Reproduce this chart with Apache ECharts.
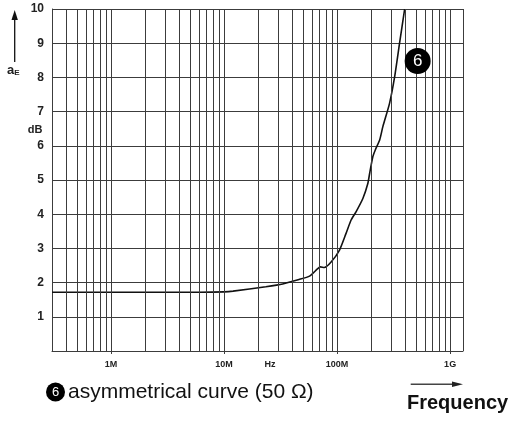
<!DOCTYPE html>
<html lang="en">

<head>
    <meta charset="UTF-8">
    <meta name="viewport" content="width=device-width, initial-scale=1.0">
    <style>
        html, body {
            margin: 0;
            padding: 0;
            background: #fff;
        }
        #main {
            width: 514px;
            height: 424px;
        }
    </style>
    <title>asymmetrical curve</title>
</head>

<body>

    <div id="main"></div>

    <script src="https://cdn.jsdelivr.net/npm/echarts@6/dist/echarts.min.js"></script>
    <script>
        // curve 6
        var freqHz = [3e5, 1e6, 3e6, 6e6, 1e7, 1.2e7, 2.34e7, 3.3e7, 4.6e7, 5.7e7, 6.7e7, 7.1e7, 7.7e7,
            8.85e7, 1.05e8, 1.2e8, 1.33e8, 1.47e8, 1.69e8, 1.87e8, 1.94e8, 2.07e8, 2.19e8, 2.38e8,
            2.54e8, 2.91e8, 3.23e8, 3.57e8, 3.96e8];
        var attenDb = [1.72, 1.72, 1.72, 1.72, 1.73, 1.75, 1.88, 1.96, 2.09, 2.19, 2.4, 2.46, 2.44,
            2.6, 2.95, 3.44, 3.83, 4.07, 4.46, 4.9, 5.19, 5.68, 5.9, 6.17,
            6.56, 7.24, 8.02, 9.0, 10.0];

        var xMin = 3e5, xMax = 1.3e9;
        var decadeLabels = { 6: '1M', 7: '10M', 8: '100M', 9: '1G' };

        var gridColor = '#3c3c3c';
        var font = 'Liberation Sans, Arial, sans-serif';

        // vertical grid lines 1..9 x 10^n inside the range, plus right border
        var vLines = [];
        for (var n = 5; n <= 9; n++) {
            for (var k = 1; k <= 9; k++) {
                var v = k * Math.pow(10, n);
                if (v > xMin && v < xMax) vLines.push({ xAxis: v });
            }
        }
        vLines.push({ xAxis: xMax });

        var myChart = echarts.init(document.getElementById('main'));

        var option = {
            animation: false,
            backgroundColor: '#fff',
            grid: {
                left: 52,
                right: 51,
                top: 9,
                bottom: 73
            },
            xAxis: {
                type: 'log',
                logBase: 10,
                min: xMin,
                max: xMax,
                axisLine: { show: true, lineStyle: { color: gridColor, width: 1 } },
                axisTick: { show: true, length: 3, lineStyle: { color: gridColor } },
                splitLine: { show: false },
                axisLabel: {
                    margin: 9,
                    color: '#222',
                    fontSize: 9,
                    fontWeight: 'bold',
                    fontFamily: font,
                    showMinLabel: false,
                    showMaxLabel: false,
                    formatter: function (v) {
                        var e = Math.round(Math.log10(v));
                        if (Math.abs(Math.log10(v) - e) > 1e-6) return '';
                        return decadeLabels[e] || '';
                    }
                }
            },
            yAxis: {
                type: 'value',
                min: 0,
                max: 10,
                interval: 1,
                axisLine: { show: true, lineStyle: { color: gridColor, width: 1 } },
                axisTick: { show: false },
                splitLine: { show: true, lineStyle: { color: gridColor, width: 1 } },
                axisLabel: {
                    margin: 8,
                    color: '#222',
                    fontSize: 12,
                    fontWeight: 'bold',
                    fontFamily: font,
                    formatter: function (v) {
                        return v === 0 ? '' : String(v);
                    }
                }
            },
            series: [{
                type: 'line',
                data: freqHz.map(function (f, i) { return [f, attenDb[i]]; }),
                showSymbol: false,
                smooth: 0.2,
                lineStyle: { color: '#111', width: 1.6 },
                markLine: {
                    silent: true,
                    symbol: 'none',
                    label: { show: false },
                    lineStyle: { color: gridColor, width: 1, type: 'solid' },
                    data: vLines
                },
                markPoint: {
                    silent: true,
                    symbol: 'circle',
                    symbolSize: 26,
                    itemStyle: { color: '#000' },
                    label: {
                        show: true,
                        formatter: '6',
                        color: '#fff',
                        fontSize: 17,
                        fontFamily: font
                    },
                    data: [{ coord: [5.16e8, 8.48] }]
                }
            }],
            graphic: [
                // arrow above a_E
                { type: 'line', shape: { x1: 14.7, y1: 62, x2: 14.7, y2: 18 }, style: { stroke: '#111', lineWidth: 1.3 } },
                { type: 'polygon', shape: { points: [[14.7, 10], [11.5, 20], [17.9, 20]] }, style: { fill: '#111' } },
                {
                    type: 'text', x: 7, y: 70,
                    style: {
                        text: '{a|a}{e|E}',
                        textVerticalAlign: 'middle',
                        rich: {
                            a: { fontSize: 13, fontWeight: 'bold', fontFamily: font, fill: '#222' },
                            e: { fontSize: 8, fontWeight: 'bold', fontFamily: font, fill: '#222', padding: [5, 0, 0, 0] }
                        }
                    }
                },
                {
                    type: 'text', x: 35, y: 129.5,
                    style: { text: 'dB', textAlign: 'center', textVerticalAlign: 'middle', fontSize: 11, fontWeight: 'bold', fontFamily: font, fill: '#222' }
                },
                {
                    type: 'text', x: 270, y: 365,
                    style: { text: 'Hz', textAlign: 'center', textVerticalAlign: 'middle', fontSize: 9, fontWeight: 'bold', fontFamily: font, fill: '#222' }
                },
                // legend
                { type: 'circle', shape: { cx: 55.5, cy: 392, r: 9.5 }, style: { fill: '#000' } },
                {
                    type: 'text', x: 55.5, y: 392.5,
                    style: { text: '6', textAlign: 'center', textVerticalAlign: 'middle', fontSize: 13, fontFamily: font, fill: '#fff' }
                },
                {
                    type: 'text', x: 68, y: 392,
                    style: { text: 'asymmetrical curve (50 Ω)', textVerticalAlign: 'middle', fontSize: 21, fontFamily: font, fill: '#111' }
                },
                // frequency arrow
                { type: 'line', shape: { x1: 410.7, y1: 384.3, x2: 455, y2: 384.3 }, style: { stroke: '#444', lineWidth: 1.5 } },
                { type: 'polygon', shape: { points: [[463, 384.3], [452, 381.5], [452, 387.1]] }, style: { fill: '#222' } },
                {
                    type: 'text', x: 407, y: 403,
                    style: { text: 'Frequency', textVerticalAlign: 'middle', fontSize: 20, fontWeight: 'bold', fontFamily: font, fill: '#111' }
                }
            ]
        };

        myChart.setOption(option);
    </script>
</body>

</html>
